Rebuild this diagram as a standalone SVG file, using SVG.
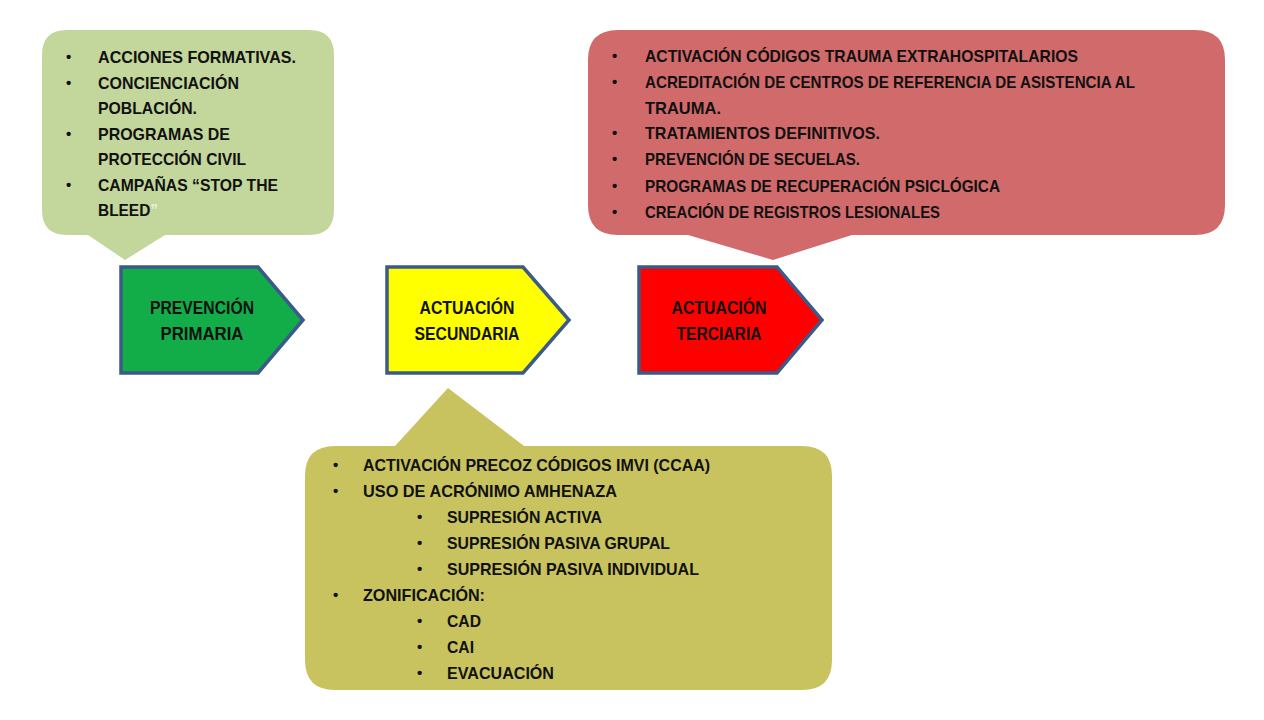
<svg xmlns="http://www.w3.org/2000/svg" width="1264" height="720" viewBox="0 0 1264 720">
<style>
.t{font-family:"Liberation Sans",Arial,sans-serif;font-weight:bold;font-size:17px;fill:#111;}
.b{font-family:"Liberation Sans",Arial,sans-serif;font-weight:bold;font-size:15px;fill:#111;}
.lbl{font-family:"Liberation Sans",Arial,sans-serif;font-weight:bold;font-size:17.5px;fill:#111;text-anchor:middle;}
.arrow{stroke:#3b5a8a;stroke-width:3.5;stroke-linejoin:miter;}
</style>
<rect width="1264" height="720" fill="#ffffff"/>

<g id="callout-primaria">
<path d="M67,30 H309 Q334,30 334,55 V210 Q334,235 309,235 H165 L125,260 L88,235 H67 Q42,235 42,210 V55 Q42,30 67,30 Z" fill="#c3d69b"/>
<g class="b"><text x="66" y="62">•</text><text x="66" y="88">•</text><text x="66" y="139">•</text><text x="66" y="190">•</text></g>
<g class="t" >
<text x="98" y="63" textLength="198" lengthAdjust="spacingAndGlyphs">ACCIONES FORMATIVAS.</text>
<text x="98" y="88.5" textLength="141" lengthAdjust="spacingAndGlyphs">CONCIENCIACIÓN</text>
<text x="98" y="114" textLength="99" lengthAdjust="spacingAndGlyphs">POBLACIÓN.</text>
<text x="98" y="139.5" textLength="132" lengthAdjust="spacingAndGlyphs">PROGRAMAS DE</text>
<text x="98" y="165" textLength="148" lengthAdjust="spacingAndGlyphs">PROTECCIÓN CIVIL</text>
<text x="98" y="190.5" textLength="180" lengthAdjust="spacingAndGlyphs">CAMPAÑAS “STOP THE</text>
<text x="98" y="216" textLength="60" lengthAdjust="spacingAndGlyphs">BLEED<tspan style="fill:#eeeedd">”</tspan></text>
</g>
</g>

<g id="callout-terciaria">
<path d="M618,30 H1195 Q1225,30 1225,60 V205 Q1225,235 1195,235 H852 L773,260 L688,235 H618 Q588,235 588,205 V60 Q588,30 618,30 Z" fill="#d16a6a"/>
<g class="b"><text x="612" y="61">•</text><text x="612" y="87">•</text><text x="612" y="138">•</text><text x="612" y="164">•</text><text x="612" y="191">•</text><text x="612" y="217">•</text></g>
<g class="t">
<text x="645" y="62" textLength="433" lengthAdjust="spacingAndGlyphs">ACTIVACIÓN CÓDIGOS TRAUMA EXTRAHOSPITALARIOS</text>
<text x="645" y="88" textLength="490" lengthAdjust="spacingAndGlyphs">ACREDITACIÓN DE CENTROS DE REFERENCIA DE ASISTENCIA AL</text>
<text x="645" y="114" textLength="76" lengthAdjust="spacingAndGlyphs">TRAUMA.</text>
<text x="645" y="139" textLength="235" lengthAdjust="spacingAndGlyphs">TRATAMIENTOS DEFINITIVOS.</text>
<text x="645" y="165" textLength="215" lengthAdjust="spacingAndGlyphs">PREVENCIÓN DE SECUELAS.</text>
<text x="645" y="192" textLength="355" lengthAdjust="spacingAndGlyphs">PROGRAMAS DE RECUPERACIÓN PSICLÓGICA</text>
<text x="645" y="218" textLength="295" lengthAdjust="spacingAndGlyphs">CREACIÓN DE REGISTROS LESIONALES</text>
</g>
</g>

<g id="callout-secundaria">
<path d="M335,446 H395 L448,388 L524,446 H802 Q832,446 832,476 V660 Q832,690 802,690 H335 Q305,690 305,660 V476 Q305,446 335,446 Z" fill="#c8c35f"/>
<g class="b"><text x="333" y="470">•</text><text x="333" y="496">•</text><text x="417" y="522">•</text><text x="417" y="548">•</text><text x="417" y="574">•</text><text x="333" y="600">•</text><text x="417" y="626">•</text><text x="417" y="652">•</text><text x="417" y="678">•</text></g>
<g class="t">
<text x="363" y="471" textLength="347" lengthAdjust="spacingAndGlyphs">ACTIVACIÓN PRECOZ CÓDIGOS  IMVI (CCAA)</text>
<text x="363" y="497" textLength="254" lengthAdjust="spacingAndGlyphs">USO DE ACRÓNIMO AMHENAZA</text>
<text x="447" y="523" textLength="155" lengthAdjust="spacingAndGlyphs">SUPRESIÓN ACTIVA</text>
<text x="447" y="549" textLength="223" lengthAdjust="spacingAndGlyphs">SUPRESIÓN PASIVA GRUPAL</text>
<text x="447" y="575" textLength="252" lengthAdjust="spacingAndGlyphs">SUPRESIÓN PASIVA INDIVIDUAL</text>
<text x="363" y="601" textLength="122" lengthAdjust="spacingAndGlyphs">ZONIFICACIÓN:</text>
<text x="447" y="627" textLength="34" lengthAdjust="spacingAndGlyphs">CAD</text>
<text x="447" y="653" textLength="27" lengthAdjust="spacingAndGlyphs">CAI</text>
<text x="447" y="679" textLength="107" lengthAdjust="spacingAndGlyphs">EVACUACIÓN</text>
</g>
</g>

<g id="prevencion-primaria">
<path class="arrow" d="M121,267 H258 L303,320 L258,373 H121 Z" fill="#12ad49"/>
<text class="lbl" x="202" y="314" textLength="104" lengthAdjust="spacingAndGlyphs">PREVENCIÓN</text>
<text class="lbl" x="202" y="340" textLength="83" lengthAdjust="spacingAndGlyphs">PRIMARIA</text>
</g>

<g id="actuacion-secundaria">
<path class="arrow" d="M387,267 H523 L569,320 L523,373 H387 Z" fill="#ffff00"/>
<text class="lbl" x="467" y="314" textLength="95" lengthAdjust="spacingAndGlyphs">ACTUACIÓN</text>
<text class="lbl" x="467" y="340" textLength="105" lengthAdjust="spacingAndGlyphs">SECUNDARIA</text>
</g>

<g id="actuacion-terciaria">
<path class="arrow" d="M639,267 H777 L822,320 L777,373 H639 Z" fill="#ff0000"/>
<text class="lbl" x="719" y="314" textLength="95" lengthAdjust="spacingAndGlyphs">ACTUACIÓN</text>
<text class="lbl" x="719" y="340" textLength="85" lengthAdjust="spacingAndGlyphs">TERCIARIA</text>
</g>

<g id="connectors"></g>
</svg>
